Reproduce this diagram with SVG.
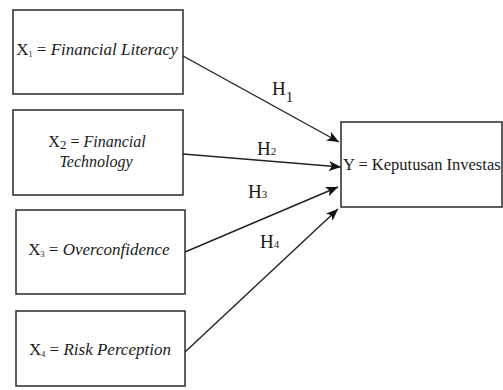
<svg xmlns="http://www.w3.org/2000/svg" width="503" height="390" viewBox="0 0 503 390">
  <style>
    .box { fill: #ffffff; stroke: #2a2a2a; stroke-width: 1.5; }
    .t { font-family: "Liberation Serif", "Times New Roman", serif; fill: #1a1a1a; }
    .it { font-style: italic; }
    .edge { stroke: #222222; stroke-width: 1.4; fill: none; marker-end: url(#ah); }
  </style>
  <defs>
    <marker id="ah" viewBox="0 0 12 10" refX="12" refY="5" markerWidth="12" markerHeight="10" markerUnits="userSpaceOnUse" orient="auto">
      <path d="M0,0 L12,5 L0,10 L3,5 Z" fill="#111111"/>
    </marker>
  </defs>
  <rect width="503" height="390" fill="#ffffff"/>

  <g id="connectors">
    <line class="edge" x1="183" y1="56" x2="339" y2="142"/>
    <line class="edge" x1="183" y1="154" x2="341" y2="167"/>
    <line class="edge" x1="185" y1="252" x2="338" y2="187"/>
    <line class="edge" x1="185" y1="352" x2="338" y2="209"/>
  </g>

  <g id="labels">
    <text class="t" x="272" y="95" font-size="19">H<tspan font-size="15" dy="7">1</tspan></text>
    <text class="t" x="257" y="155" font-size="19">H<tspan font-size="11">2</tspan></text>
    <text class="t" x="248" y="198" font-size="19">H<tspan font-size="11">3</tspan></text>
    <text class="t" x="260" y="248" font-size="19">H<tspan font-size="11">4</tspan></text>
  </g>

  <g id="x1">
    <rect class="box" x="13" y="10" width="170" height="84"/>
    <text class="t" x="97" y="55" font-size="17" text-anchor="middle">X<tspan font-size="8" dy="2">1</tspan><tspan dy="-2"> = </tspan><tspan class="it">Financial Literacy</tspan></text>
  </g>

  <g id="x2">
    <rect class="box" x="13" y="110" width="170" height="85"/>
    <text class="t" x="97" y="147" font-size="16" text-anchor="middle">X<tspan font-size="13" dy="2">2</tspan><tspan dy="-2"> = </tspan><tspan class="it">Financial</tspan></text>
    <text class="t it" x="96" y="167" font-size="16" text-anchor="middle">Technology</text>
  </g>

  <g id="x3">
    <rect class="box" x="16" y="210" width="169" height="84"/>
    <text class="t" x="99" y="255" font-size="17" text-anchor="middle">X<tspan font-size="8" dy="2">3</tspan><tspan dy="-2"> = </tspan><tspan class="it">Overconfidence</tspan></text>
  </g>

  <g id="x4">
    <rect class="box" x="16" y="311" width="169" height="75"/>
    <text class="t" x="100" y="355" font-size="17" text-anchor="middle">X<tspan font-size="8" dy="2">4</tspan><tspan dy="-2"> = </tspan><tspan class="it">Risk Perception</tspan></text>
  </g>

  <g id="y">
    <rect class="box" x="341" y="122" width="161" height="85"/>
    <text class="t" x="343" y="170" font-size="16.5">Y = Keputusan Investas</text>
  </g>
</svg>
